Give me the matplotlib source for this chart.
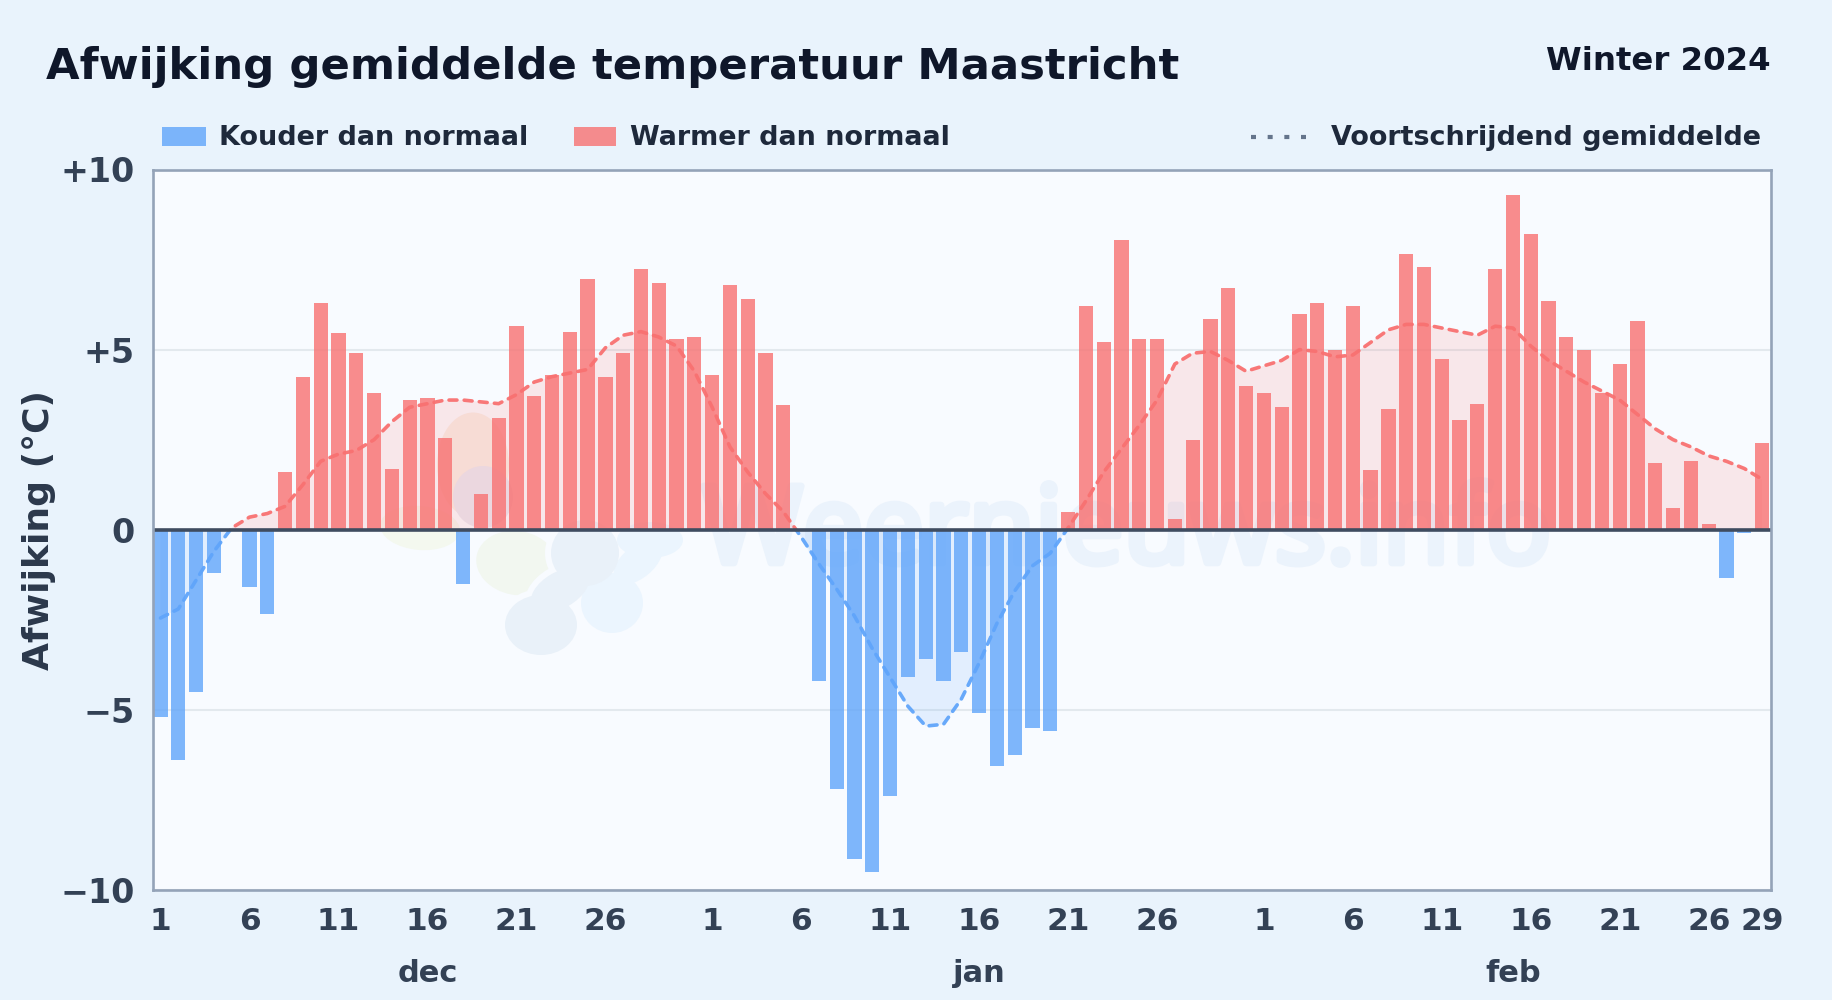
import numpy as np
import matplotlib
matplotlib.use('Agg')
import matplotlib.pyplot as plt
import matplotlib.patheffects as pe
from matplotlib.patches import Ellipse, Rectangle
from matplotlib.lines import Line2D
from matplotlib.transforms import IdentityTransform, blended_transform_factory

# Afwijking per dag, 1 dec t/m 29 feb
afwijking_dec = [-5.2, -6.4, -4.5, -1.2, 0, -1.6, -2.35, 1.6, 4.25, 6.3, 5.45, 4.9, 3.8, 1.7, 3.6, 3.65,
                 2.55, -1.5, 1.0, 3.1, 5.65, 3.7, 4.3, 5.5, 6.95, 4.25, 4.9, 7.25, 6.85, 5.3, 5.35]
afwijking_jan = [4.3, 6.8, 6.4, 4.9, 3.45, 0, -4.2, -7.2, -9.15, -9.5, -7.4, -4.1, -3.6, -4.2, -3.4, -5.1,
                 -6.55, -6.25, -5.5, -5.6, 0.5, 6.2, 5.2, 8.05, 5.3, 5.3, 0.3, 2.5, 5.85, 6.7, 4.0]
afwijking_feb = [3.8, 3.4, 6.0, 6.3, 5.0, 6.2, 1.65, 3.35, 7.65, 7.3, 4.75, 3.05, 3.5, 7.25, 9.3, 8.2,
                 6.35, 5.35, 5.0, 3.8, 4.6, 5.8, 1.85, 0.6, 1.9, 0.15, -1.35, -0.1, 2.4]

# Voortschrijdend gemiddelde
gem_dec = [-2.45, -2.2, -1.4, -0.6, 0.05, 0.35, 0.45, 0.65, 1.25, 1.9, 2.1, 2.2, 2.5, 3.0, 3.4, 3.5,
           3.6, 3.6, 3.55, 3.5, 3.75, 4.1, 4.25, 4.35, 4.45, 5.05, 5.4, 5.5, 5.35, 5.1, 4.4]
gem_jan = [3.4, 2.3, 1.6, 1.0, 0.5, -0.2, -0.95, -1.65, -2.4, -3.3, -4.1, -4.9, -5.45, -5.4, -4.7, -3.7,
           -2.6, -1.7, -1.0, -0.65, 0.05, 0.8, 1.6, 2.25, 2.9, 3.6, 4.6, 4.9, 4.95, 4.7, 4.4]
gem_feb = [4.55, 4.7, 5.0, 4.95, 4.8, 4.85, 5.2, 5.55, 5.7, 5.7, 5.6, 5.5, 5.4, 5.65, 5.6, 5.1,
           4.7, 4.4, 4.1, 3.85, 3.6, 3.2, 2.8, 2.5, 2.3, 2.05, 1.9, 1.7, 1.4]

dagen_ticks = [0, 5, 10, 15, 20, 25, 31, 36, 41, 46, 51, 56, 62, 67, 72, 77, 82, 87, 90]
dagen_labels = ['1', '6', '11', '16', '21', '26', '1', '6', '11', '16', '21', '26',
                '1', '6', '11', '16', '21', '26', '29']
maanden = ['dec', 'jan', 'feb']
maand_pos = [15, 46, 76]
y_ticks = [-10, -5, 0, 5, 10]
y_labels = ['\u221210', '\u22125', '0', '+5', '+10']

BLAUW = '#60a5fa'
ROOD = '#f87171'
ACHTERGROND = '#e9f3fc'

afwijking = np.array(afwijking_dec + afwijking_jan + afwijking_feb)
gemiddelde = np.array(gem_dec + gem_jan + gem_feb)
x = np.arange(len(afwijking))

plt.rcParams['font.family'] = 'DejaVu Sans'
plt.rcParams['font.weight'] = 'bold'

fig = plt.figure(figsize=(18.32, 10), dpi=100, facecolor=ACHTERGROND)
ax = fig.add_axes([152.5 / 1832, 1 - 890 / 1000, (1771 - 152.5) / 1832, (890 - 169.5) / 1000])
ax.set_facecolor('#f8fbff')
ax.set_xlim(-0.45, 90.5)
ax.set_ylim(-10, 10)


# Logo en watermerk, posities in pixels
def vlek(cx, cy, w, h, hoek, kleur):
    ax.add_patch(Ellipse((cx, 1000 - cy), w, h, angle=hoek, facecolor=kleur, edgecolor='none',
                         transform=IdentityTransform(), zorder=0.5))


vlek(473, 465, 72, 105, 0, '#f7eee6')
vlek(420, 528, 80, 44, -5, '#f4f8ef')
vlek(483, 497, 60, 62, 0, '#e9e8f2')
vlek(517, 563, 82, 64, -10, '#f2f7f0')

# witte rand tussen de blauwe vlekken
for cx, cy, w, h, hoek in [(541, 625, 72, 60, 0), (560, 590, 64, 36, 30), (585, 553, 68, 66, 0)]:
    vlek(cx, cy, w + 12, h + 12, hoek, '#f8fbff')
for cx, cy, w, h, hoek in [(612, 603, 62, 60, 0), (638, 562, 58, 32, 40), (650, 540, 66, 36, 0)]:
    vlek(cx, cy, w, h, hoek, '#ebf5fe')
for cx, cy, w, h, hoek in [(541, 625, 72, 60, 0), (560, 590, 64, 36, 30), (585, 553, 68, 66, 0)]:
    vlek(cx, cy, w, h, hoek, '#e9f1f9')

ax.text(0.602, -0.92, 'Weernieuws.info', transform=blended_transform_factory(ax.transAxes, ax.transData),
        ha='center', va='baseline', fontsize=77.5, family='Noto Sans', color='#ebf3fc', zorder=0.6,
        path_effects=[pe.withStroke(linewidth=5, foreground='#ebf3fc')])

ax.grid(axis='y', color='#e3e9ee', linewidth=1.5, zorder=1)
ax.set_axisbelow(True)

# Vulling onder het gemiddelde
ax.fill_between(x, gemiddelde, 0, where=gemiddelde >= 0, interpolate=True, color=ROOD, alpha=0.14,
                linewidth=0, zorder=2)
ax.fill_between(x, gemiddelde, 0, where=gemiddelde <= 0, interpolate=True, color=BLAUW, alpha=0.14,
                linewidth=0, zorder=2)

kleuren = [ROOD if v >= 0 else BLAUW for v in afwijking]
ax.bar(x, afwijking, width=0.8, color=kleuren, alpha=0.8, linewidth=0, zorder=3)

# Lijn in twee kleuren, afgeknipt op de nullijn
lijn_rood, = ax.plot(x, gemiddelde, color=ROOD, linewidth=2.6, dashes=(2.2, 2.0),
                     dash_capstyle='round', alpha=0.95, zorder=4)
lijn_blauw, = ax.plot(x, gemiddelde, color=BLAUW, linewidth=2.6, dashes=(2.2, 2.0),
                      dash_capstyle='round', alpha=0.95, zorder=4)
lijn_rood.set_clip_path(Rectangle((-1, 0), 93, 10, transform=ax.transData))
lijn_blauw.set_clip_path(Rectangle((-1, -10), 93, 10, transform=ax.transData))

ax.axhline(0, color='#3f4c60', linewidth=2.6, zorder=5)

for spine in ax.spines.values():
    spine.set_color('#94a3b8')
    spine.set_linewidth(1.9)
    spine.set_zorder(6)

ax.set_xticks(dagen_ticks, dagen_labels)
ax.set_yticks(y_ticks, y_labels)
ax.tick_params(axis='both', length=0, labelcolor='#334155')
ax.tick_params(axis='x', pad=12, labelsize=22.5)
ax.tick_params(axis='y', pad=13, labelsize=24)

overgang = blended_transform_factory(ax.transData, fig.transFigure)
for m, p in zip(maanden, maand_pos):
    ax.text(p, 1 - 974 / 1000, m, transform=overgang, ha='center', va='center', fontsize=22, color='#334155')

fig.text(22 / 1832, 1 - 530 / 1000, 'Afwijking (\u00b0C)', rotation=90, ha='left', va='center', fontsize=26,
         color='#2b384b')
fig.text(46 / 1832, 1 - 67.5 / 1000, 'Afwijking gemiddelde temperatuur Maastricht', ha='left', va='center',
         fontsize=31.2, color='#0f172a')
fig.text(1771 / 1832, 1 - 61 / 1000, 'Winter 2024', ha='right', va='center', fontsize=23.3, color='#0f172a')

# Legenda
fig.patches.append(Rectangle((162 / 1832, 1 - 146 / 1000), 44 / 1832, 19 / 1000, transform=fig.transFigure,
                             facecolor=BLAUW, alpha=0.8, edgecolor='none', figure=fig))
fig.patches.append(Rectangle((574 / 1832, 1 - 146 / 1000), 42 / 1832, 19 / 1000, transform=fig.transFigure,
                             facecolor=ROOD, alpha=0.8, edgecolor='none', figure=fig))
fig.lines.append(Line2D([1251 / 1832, 1310 / 1832], [1 - 137 / 1000] * 2, transform=fig.transFigure,
                        color='#64748b', linewidth=3, dashes=(1.2, 2.8), figure=fig))
fig.text(219 / 1832, 1 - 138 / 1000, 'Kouder dan normaal', ha='left', va='center', fontsize=19.45, color='#1e293b')
fig.text(630 / 1832, 1 - 138 / 1000, 'Warmer dan normaal', ha='left', va='center', fontsize=19.45, color='#1e293b')
fig.text(1761 / 1832, 1 - 138 / 1000, 'Voortschrijdend gemiddelde', ha='right', va='center', fontsize=19.45,
         color='#1e293b')

fig.savefig('out.png', dpi=100, facecolor=fig.get_facecolor())
